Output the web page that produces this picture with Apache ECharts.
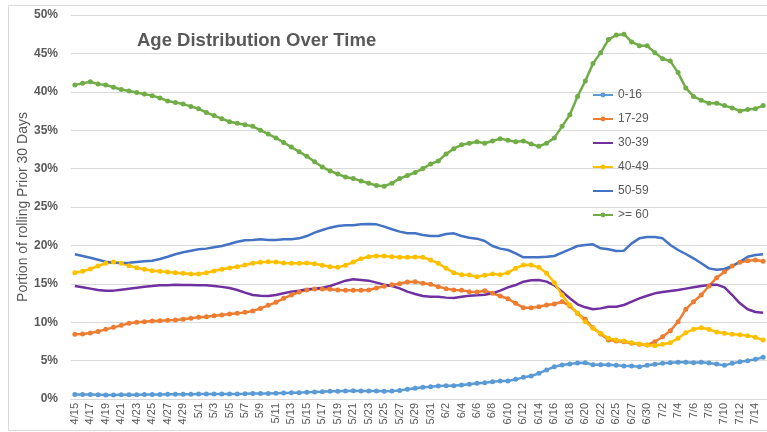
<!DOCTYPE html>
<html>
<head>
    <meta charset="utf-8" />
    <title>Age Distribution Over Time</title>
    <script src="https://cdn.jsdelivr.net/npm/echarts@6/dist/echarts.min.js"></script>
    <style>
        html, body { margin: 0; padding: 0; background: #fff; }
    </style>
</head>
<body>
    <div id="main" style="width:767px;height:432px"></div>
    <script type="text/javascript">

        var dates = ['4/15', '4/16', '4/17', '4/18', '4/19', '4/20', '4/21', '4/22', '4/23', '4/24', '4/25', '4/26', '4/27', '4/28', '4/29', '4/30',
            '5/1', '5/2', '5/3', '5/4', '5/5', '5/6', '5/7', '5/8', '5/9', '5/10', '5/11', '5/12', '5/13', '5/14', '5/15', '5/16',
            '5/17', '5/18', '5/19', '5/20', '5/21', '5/22', '5/23', '5/24', '5/25', '5/26', '5/27', '5/28', '5/29', '5/30', '5/31',
            '6/1', '6/2', '6/3', '6/4', '6/5', '6/6', '6/7', '6/8', '6/9', '6/10', '6/11', '6/12', '6/13', '6/14', '6/15', '6/16',
            '6/17', '6/18', '6/19', '6/20', '6/21', '6/22', '6/24', '6/25', '6/26', '6/27', '6/28', '6/30',
            '7/1', '7/2', '7/3', '7/4', '7/5', '7/6', '7/7', '7/8', '7/9', '7/10', '7/11', '7/12', '7/13', '7/14', '7/15'];

        var age0to16 = [0.6, 0.6, 0.58, 0.55, 0.52, 0.52, 0.55, 0.55, 0.55, 0.58, 0.6, 0.6, 0.62, 0.62, 0.62, 0.63,
            0.65, 0.65, 0.65, 0.65, 0.65, 0.65, 0.67, 0.7, 0.72, 0.72, 0.75, 0.78, 0.8, 0.83, 0.87, 0.9,
            0.95, 1.0, 1.02, 1.05, 1.07, 1.05, 1.03, 1.03, 1.02, 1.05, 1.12, 1.26, 1.39, 1.52, 1.6,
            1.69, 1.73, 1.73, 1.82, 1.91, 2.04, 2.13, 2.26, 2.34, 2.34, 2.56, 2.82, 3.0, 3.34, 3.78, 4.2,
            4.43, 4.56, 4.69, 4.73, 4.47, 4.47, 4.47, 4.38, 4.3, 4.3, 4.21, 4.38,
            4.51, 4.64, 4.73, 4.77, 4.77, 4.73, 4.77, 4.69, 4.56, 4.38, 4.64, 4.86, 4.99, 5.16, 5.43];

        var age17to29 = [8.42, 8.46, 8.6, 8.8, 9.07, 9.33, 9.59, 9.85, 9.98, 10.07, 10.16, 10.2, 10.24, 10.29, 10.37, 10.5,
            10.63, 10.72, 10.85, 10.94, 11.07, 11.15, 11.28, 11.46, 11.8, 12.2, 12.59, 13.11, 13.54, 13.93, 14.19, 14.32,
            14.32, 14.28, 14.19, 14.15, 14.15, 14.15, 14.19, 14.45, 14.67, 14.89, 15.02, 15.23, 15.28, 15.06, 14.93,
            14.63, 14.37, 14.19, 14.15, 13.98, 13.93, 14.1, 13.76, 13.41, 13.06, 12.46, 11.89, 11.89, 12.02, 12.24, 12.37,
            12.67, 12.11, 11.15, 10.37, 9.28, 8.46, 7.68, 7.55, 7.46, 7.25, 7.12, 7.03,
            7.46, 8.11, 8.89, 10.07, 11.68, 12.67, 13.54, 14.71, 15.8, 16.58, 17.32, 17.8, 18.01, 18.1, 17.93];

        var age30to39 = [14.71, 14.54, 14.37, 14.19, 14.11, 14.11, 14.24, 14.37, 14.5, 14.63, 14.71, 14.8, 14.8, 14.89, 14.85, 14.85,
            14.8, 14.8, 14.71, 14.6, 14.45, 14.19, 13.85, 13.54, 13.45, 13.41, 13.54, 13.76, 13.98, 14.11, 14.28, 14.37,
            14.5, 14.71, 15.06, 15.41, 15.58, 15.5, 15.41, 15.15, 14.89, 14.71, 14.4, 13.98, 13.67, 13.41, 13.32,
            13.32, 13.2, 13.15, 13.32, 13.45, 13.5, 13.58, 13.76, 14.11, 14.54, 14.84, 15.28, 15.45, 15.5, 15.28, 14.8,
            13.98, 13.11, 12.33, 11.94, 11.68, 11.8, 12.02, 12.02, 12.24, 12.67, 13.11, 13.45,
            13.76, 13.93, 14.06, 14.19, 14.37, 14.54, 14.71, 14.84, 14.89, 14.54, 13.54, 12.46, 11.68, 11.33, 11.24];

        var age40to49 = [16.45, 16.63, 16.93, 17.32, 17.67, 17.84, 17.67, 17.36, 17.1, 16.89, 16.71, 16.63, 16.54, 16.45, 16.37, 16.28,
            16.28, 16.45, 16.67, 16.89, 17.06, 17.23, 17.45, 17.67, 17.8, 17.88, 17.84, 17.71, 17.67, 17.67, 17.71, 17.62,
            17.41, 17.23, 17.14, 17.41, 17.84, 18.27, 18.53, 18.62, 18.62, 18.53, 18.45, 18.45, 18.49, 18.45, 18.1,
            17.67, 17.01, 16.45, 16.19, 16.15, 15.93, 16.1, 16.28, 16.19, 16.45, 17.01, 17.45, 17.45, 17.14, 16.37, 15.15,
            13.54, 12.24, 11.15, 10.07, 9.2, 8.55, 7.9, 7.68, 7.55, 7.33, 7.16, 7.03,
            6.94, 7.12, 7.33, 7.9, 8.64, 9.07, 9.28, 9.07, 8.72, 8.55, 8.42, 8.38, 8.25, 8.03, 7.68];

        var age50to59 = [18.84, 18.62, 18.4, 18.14, 17.88, 17.75, 17.71, 17.75, 17.84, 17.93, 18.0, 18.23, 18.53, 18.84, 19.1, 19.31,
            19.49, 19.58, 19.75, 19.92, 20.18, 20.48, 20.66, 20.7, 20.79, 20.7, 20.7, 20.79, 20.79, 20.92, 21.22, 21.66,
            22.0, 22.31, 22.53, 22.61, 22.61, 22.74, 22.79, 22.74, 22.44, 22.1, 21.79, 21.57, 21.57, 21.35, 21.22,
            21.22, 21.48, 21.57, 21.22, 21.0, 20.88, 20.57, 19.92, 19.58, 19.4, 18.97, 18.45, 18.45, 18.45, 18.53, 18.62,
            19.05, 19.49, 19.92, 20.05, 20.14, 19.62, 19.49, 19.27, 19.31, 20.27, 20.92, 21.09,
            21.09, 20.92, 20.05, 19.4, 18.88, 18.32, 17.67, 17.01, 16.84, 16.93, 17.32, 17.88, 18.53, 18.75, 18.84];

        var age60plus = [40.9, 41.1, 41.3, 41.0, 40.9, 40.6, 40.3, 40.1, 39.9, 39.7, 39.5, 39.2, 38.8, 38.6, 38.4, 38.1,
            37.8, 37.3, 36.9, 36.5, 36.1, 35.9, 35.7, 35.5, 35.0, 34.5, 34.0, 33.4, 32.8, 32.2, 31.6, 30.9,
            30.2, 29.7, 29.3, 28.9, 28.7, 28.4, 28.1, 27.8, 27.7, 28.1, 28.7, 29.1, 29.5, 30.0, 30.6,
            31.0, 31.9, 32.6, 33.1, 33.3, 33.5, 33.3, 33.6, 33.9, 33.7, 33.5, 33.6, 33.2, 32.9, 33.3, 34.0,
            35.5, 37.0, 39.4, 41.4, 43.7, 45.1, 46.8, 47.4, 47.5, 46.5, 46.0, 46.0,
            45.1, 44.3, 44.0, 42.5, 40.5, 39.4, 38.9, 38.5, 38.5, 38.2, 37.9, 37.5, 37.7, 37.8, 38.2];

        var seriesNames = ['0-16', '17-29', '30-39', '40-49', '50-59', '>= 60'];
        var seriesData = [age0to16, age17to29, age30to39, age40to49, age50to59, age60plus];
        var colorList = ['#5b9bd5', '#ed7d31', '#7030a0', '#ffc000', '#4472c4', '#70ad47'];
        var hasMarker = [true, true, false, true, false, true];

        var chartDom = document.getElementById('main');
        var myChart = echarts.init(chartDom);
        var option;

        var series = seriesNames.map(function (name, i) {
            return {
                name: name,
                type: 'line',
                data: seriesData[i],
                symbol: hasMarker[i] ? 'circle' : 'none',
                showSymbol: hasMarker[i],
                symbolSize: 5,
                lineStyle: { width: 2.5, color: colorList[i] },
                itemStyle: { color: colorList[i] },
                animation: false
            };
        });

        // series without markers get a plain line in the legend
        var legendData = seriesNames.map(function (name, i) {
            var item = { name: name };
            if (!hasMarker[i]) {
                item.itemStyle = { opacity: 0 };
            }
            return item;
        });

        option = {
            animation: false,
            textStyle: { fontFamily: 'Liberation Sans' },
            title: {
                text: 'Age Distribution Over Time',
                left: 137,
                top: 31,
                padding: 0,
                textStyle: { fontSize: 18.5, fontWeight: 'bold', color: '#595959' }
            },
            legend: {
                orient: 'vertical',
                left: 587,
                top: 84,
                itemWidth: 20,
                itemHeight: 6,
                itemGap: 12,
                textStyle: { fontSize: 12, color: '#595959' },
                data: legendData
            },
            graphic: [{
                type: 'rect',
                shape: { x: 8.5, y: 5.5, width: 770, height: 425 },
                style: { fill: 'none', stroke: '#d9d9d9', lineWidth: 1 },
                silent: true
            }],
            grid: {
                left: 71,
                right: -4,
                top: 15,
                bottom: 33
            },
            xAxis: {
                type: 'category',
                data: dates,
                boundaryGap: true,
                axisLine: { lineStyle: { color: '#d9d9d9', width: 1 } },
                axisTick: { show: false },
                axisLabel: {
                    interval: 1,
                    rotate: 90,
                    margin: 4,
                    fontSize: 11,
                    color: '#595959'
                }
            },
            yAxis: {
                type: 'value',
                min: 0,
                max: 50,
                interval: 5,
                name: 'Portion of rolling Prior 30 Days',
                nameLocation: 'middle',
                nameGap: 41,
                nameMoveOverlap: false,
                nameTextStyle: { fontSize: 14, color: '#595959' },
                axisLine: { show: false },
                axisTick: { show: false },
                axisLabel: {
                    formatter: '{value}%',
                    fontSize: 12,
                    fontWeight: 'bold',
                    color: '#595959',
                    margin: 13
                },
                splitLine: { lineStyle: { color: '#d9d9d9', width: 1 } }
            },
            series: series
        };

        option && myChart.setOption(option);

    </script>
</body>
</html>
